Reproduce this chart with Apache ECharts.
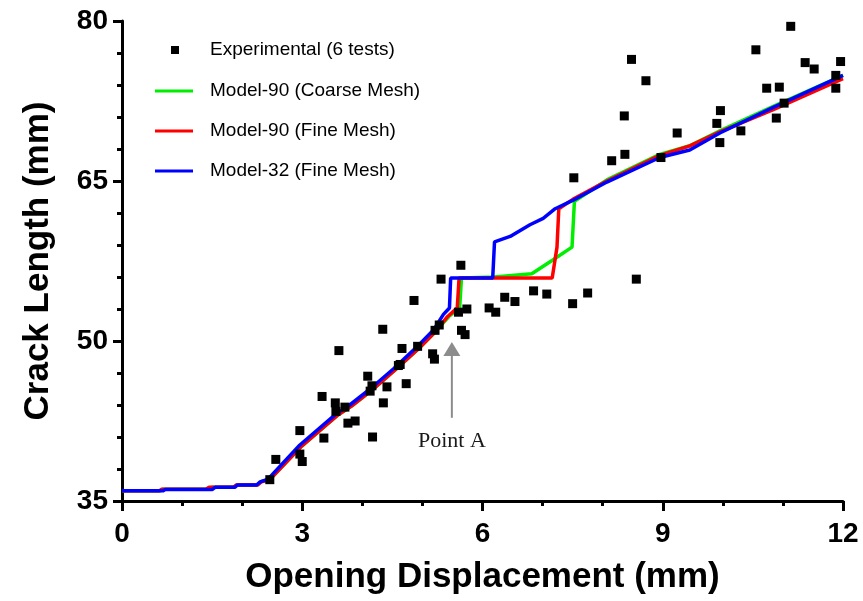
<!DOCTYPE html>
<html>
<head>
<meta charset="utf-8">
<title>Crack Length vs Opening Displacement</title>
<script src="https://cdn.jsdelivr.net/npm/echarts@6/dist/echarts.min.js"></script>
<style>
  html, body { margin: 0; padding: 0; background: #ffffff; }
  #chart { width: 863px; height: 601px; }
</style>
</head>
<body>
<div id="chart"></div>
<script>
// Axis ticks
const xTicks = [0, 3, 6, 9, 12];
const yTicks = [35, 50, 65, 80];

// Experimental measurements, [opening displacement mm, crack length mm]
const experimental = [
  [2.46, 37.0], [2.56, 38.9], [2.96, 41.6], [2.96, 39.4], [3.0, 38.7], [3.33, 44.8],
  [3.36, 40.9], [3.55, 44.2], [3.56, 43.4], [3.61, 49.1], [3.71, 43.8], [3.76, 42.3],
  [3.88, 42.5], [4.09, 46.7], [4.13, 45.3], [4.16, 45.8], [4.17, 41.0], [4.34, 51.1],
  [4.35, 44.2], [4.41, 45.7], [4.6, 47.7], [4.63, 47.8], [4.66, 49.3], [4.73, 46.0],
  [4.86, 53.8], [4.92, 49.5], [5.17, 48.8], [5.2, 48.3], [5.21, 51.0], [5.28, 51.5],
  [5.31, 55.8], [5.6, 52.7], [5.64, 57.1], [5.65, 51.0], [5.71, 50.6], [5.74, 53.0],
  [6.11, 53.1], [6.22, 52.7], [6.37, 54.1], [6.54, 53.7], [6.85, 54.7], [7.07, 54.4],
  [7.5, 53.5], [7.52, 65.3], [7.75, 54.5], [8.15, 66.9], [8.36, 71.1], [8.37, 67.5],
  [8.48, 76.4], [8.56, 55.8], [8.72, 74.4], [8.97, 67.2], [9.24, 69.5], [9.9, 70.4],
  [9.96, 71.6], [9.95, 68.6], [10.3, 69.7], [10.55, 77.3], [10.73, 73.7], [10.89, 70.9],
  [10.94, 73.8], [11.02, 72.3], [11.13, 79.5], [11.37, 76.1], [11.52, 75.5], [11.88, 74.9],
  [11.88, 73.7], [11.96, 76.2]
];

// Model-90, coarse mesh
const model90Coarse = [
  [0, 35.95], [0.64, 35.95], [0.68, 36.1], [1.45, 36.1], [1.5, 36.3], [1.87, 36.3],
  [1.91, 36.5], [2.25, 36.5], [2.31, 36.8], [2.46, 37.0], [2.99, 40.15], [3.58, 43.0],
  [3.82, 43.9], [4.16, 45.4], [4.55, 47.3], [4.94, 49.3], [5.22, 50.9], [5.44, 52.3],
  [5.62, 53.1], [5.65, 55.9], [6.2, 56.0], [6.82, 56.3], [7.17, 57.6], [7.49, 58.8],
  [7.53, 63.1], [8.07, 65.1], [8.95, 67.5], [9.45, 68.3], [9.95, 69.7], [10.84, 72.0],
  [12, 74.9]
];

// Model-90, fine mesh
const model90Fine = [
  [0, 35.95], [0.62, 35.95], [0.66, 36.1], [1.4, 36.1], [1.45, 36.3], [1.86, 36.3],
  [1.9, 36.5], [2.26, 36.5], [2.32, 36.8], [2.46, 37.0], [2.99, 40.15], [3.58, 43.0],
  [3.82, 43.9], [4.16, 45.4], [4.55, 47.3], [4.94, 49.3], [5.22, 50.9], [5.42, 52.3],
  [5.58, 53.1], [5.61, 55.9], [7.16, 55.9], [7.24, 58.8], [7.27, 62.4], [7.51, 63.3],
  [8.07, 65.0], [8.95, 67.4], [9.45, 68.3], [9.95, 69.6], [10.84, 71.7], [12, 74.6]
];

// Model-32, fine mesh
const model32Fine = [
  [0, 35.95], [0.68, 35.95], [0.72, 36.08], [1.5, 36.08], [1.55, 36.28], [1.88, 36.28],
  [1.92, 36.5], [2.24, 36.5], [2.3, 36.8], [2.43, 37.05], [2.96, 40.25], [3.55, 43.1],
  [3.79, 44.0], [4.13, 45.5], [4.52, 47.4], [4.9, 49.4], [5.18, 51.0], [5.35, 52.5],
  [5.45, 53.1], [5.47, 55.9], [6.17, 55.9], [6.2, 59.3], [6.46, 59.8], [6.79, 60.9],
  [7.01, 61.5], [7.21, 62.4], [7.51, 63.2], [8.07, 64.9], [8.95, 67.2], [9.45, 67.9],
  [9.95, 69.5], [10.84, 71.9], [12, 74.9]
];

// Annotated location on the curves
const pointA = { label: 'Point A', tip: [5.49, 49.9], tail: [5.49, 42.8], text: [5.49, 40.6] };

const SANS = '"Liberation Sans", Arial, sans-serif';
const SERIF = '"Liberation Serif", "Times New Roman", serif';
const names = ['Experimental (6 tests)', 'Model-90 (Coarse Mesh)', 'Model-90 (Fine Mesh)', 'Model-32 (Fine Mesh)'];

const chart = echarts.init(document.getElementById('chart'), null, { renderer: 'canvas' });

function lineSeries(name, data, color, z) {
  return {
    name: name, type: 'line', data: data, z: z,
    symbol: 'none', showSymbol: false, smooth: false,
    lineStyle: { color: color, width: 3.5 },
    itemStyle: { color: color }
  };
}

chart.setOption({
  animation: false,
  backgroundColor: '#ffffff',
  grid: { left: 122, right: 20, top: 21, bottom: 100, containLabel: false },
  legend: [
    {
      data: [names[0]],
      orient: 'vertical', left: 166, top: 35,
      icon: 'rect', itemWidth: 8, itemHeight: 8,
      textStyle: { fontFamily: SANS, fontSize: 19, color: '#000', lineHeight: 20, padding: [0, 0, 0, 26] }
    },
    {
      data: [names[1], names[2], names[3]],
      orient: 'vertical', left: 150, top: 76, itemGap: 20,
      icon: 'rect', itemWidth: 38, itemHeight: 3,
      textStyle: { fontFamily: SANS, fontSize: 19, color: '#000', lineHeight: 20, padding: [0, 0, 0, 12] }
    }
  ],
  xAxis: {
    type: 'value', min: 0, max: 12, interval: 3,
    name: 'Opening Displacement (mm)', nameLocation: 'middle', nameGap: 59,
    nameTextStyle: { fontFamily: SANS, fontSize: 35, fontWeight: 'bold', color: '#000' },
    axisLine: { show: true, onZero: false, lineStyle: { color: '#000', width: 3 } },
    axisTick: { show: true, length: 10, lineStyle: { color: '#000', width: 3 } },
    minorTick: { show: true, splitNumber: 3, length: 5, lineStyle: { color: '#000', width: 3 } },
    splitLine: { show: false },
    axisLabel: {
      fontFamily: SANS, fontSize: 28, fontWeight: 'bold', color: '#000', margin: 19,
      formatter: function (v) { return xTicks.indexOf(v) >= 0 ? String(v) : ''; }
    }
  },
  yAxis: {
    type: 'value', min: 35, max: 80, interval: 15,
    name: 'Crack Length (mm)', nameLocation: 'middle', nameGap: 66,
    nameTextStyle: { fontFamily: SANS, fontSize: 35, fontWeight: 'bold', color: '#000' },
    axisLine: { show: true, onZero: false, lineStyle: { color: '#000', width: 3 } },
    axisTick: { show: true, length: 9, lineStyle: { color: '#000', width: 3 } },
    minorTick: { show: true, splitNumber: 5, length: 5, lineStyle: { color: '#000', width: 3 } },
    splitLine: { show: false },
    axisLabel: {
      fontFamily: SANS, fontSize: 28, fontWeight: 'bold', color: '#000', margin: 14,
      formatter: function (v) { return yTicks.indexOf(v) >= 0 ? String(v) : ''; }
    }
  },
  series: [
    lineSeries(names[1], model90Coarse, '#00ee00', 2),
    lineSeries(names[2], model90Fine, '#ff0000', 3),
    lineSeries(names[3], model32Fine, '#0000ff', 4),
    {
      name: names[0], type: 'scatter', data: experimental, z: 6,
      symbol: 'rect', symbolSize: 9,
      itemStyle: { color: '#000000', opacity: 1 }
    }
  ]
});

// Arrow and caption for Point A, placed from data coordinates
function drawAnnotation() {
  const tip = chart.convertToPixel({ gridIndex: 0 }, pointA.tip);
  const tail = chart.convertToPixel({ gridIndex: 0 }, pointA.tail);
  const txt = chart.convertToPixel({ gridIndex: 0 }, pointA.text);
  const headLen = 14, headHalf = 8.5;
  chart.setOption({
    graphic: [
      {
        type: 'line', silent: true, z: 10,
        shape: { x1: tail[0], y1: tail[1], x2: tip[0], y2: tip[1] + headLen - 1 },
        style: { stroke: '#8c8c8c', lineWidth: 2 }
      },
      {
        type: 'polygon', silent: true, z: 10,
        shape: { points: [[tip[0], tip[1]], [tip[0] - headHalf, tip[1] + headLen], [tip[0] + headHalf, tip[1] + headLen]] },
        style: { fill: '#8c8c8c' }
      },
      {
        type: 'text', silent: true, z: 10,
        x: txt[0], y: txt[1],
        style: {
          text: pointA.label, fill: '#1a1a1a',
          font: '22px ' + SERIF, align: 'center', verticalAlign: 'middle'
        }
      }
    ]
  });
}
drawAnnotation();
</script>
</body>
</html>
